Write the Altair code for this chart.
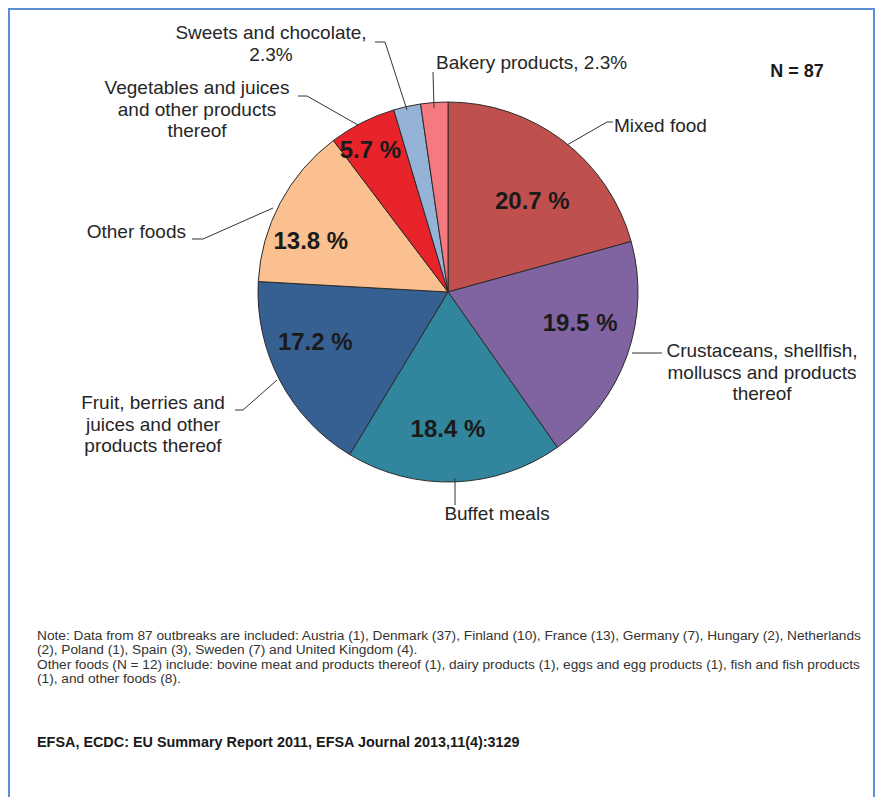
import math
import altair as alt
import pandas as pd

# ---------------- data ----------------
categories = [
    "Mixed food",
    "Crustaceans, shellfish, molluscs and products thereof",
    "Buffet meals",
    "Fruit, berries and juices and other products thereof",
    "Other foods",
    "Vegetables and juices and other products thereof",
    "Sweets and chocolate",
    "Bakery products",
]
shares = [20.7, 19.5, 18.4, 17.2, 13.8, 5.7, 2.3, 2.3]
inner_label = [True, True, True, True, True, True, False, False]

# outside label lines per category (text)
outer_lines = [
    ["Mixed food"],
    ["Crustaceans, shellfish,", "molluscs and products", "thereof"],
    ["Buffet meals"],
    ["Fruit, berries and", "juices and other", "products thereof"],
    ["Other foods"],
    ["Vegetables and juices", "and other products", "thereof"],
    ["Sweets and chocolate,", "2.3%"],
    ["Bakery products, 2.3%"],
]

note_lines = [
    "Note: Data from 87 outbreaks are included: Austria (1), Denmark (37), Finland (10), France (13), Germany (7), Hungary (2), Netherlands",
    "(2), Poland (1), Spain (3), Sweden (7) and United Kingdom (4).",
    "Other foods (N = 12) include: bovine meat and products thereof (1), dairy products (1), eggs and egg products (1), fish and fish products",
    "(1), and other foods (8).",
]
citation = "EFSA, ECDC: EU Summary Report 2011, EFSA Journal 2013,11(4):3129"
n_text = "N = 87"

# ---------------- style / layout ----------------
colors = ["#C0504D", "#8064A2", "#31859C", "#366092", "#FAC090", "#E8232A", "#95B3D7", "#F47A80"]
W, H = 867, 789
OFF = 8  # page margin: chart coords = page coords - 8
CX, CY, R = 448 - OFF, 292 - OFF, 190
FONT = "Liberation Sans, Arial, Helvetica, sans-serif"
NARROW = "Liberation Sans Narrow, Arial Narrow, Liberation Sans, sans-serif"

# inner % label radius and angular nudge (degrees)
lbl_radius = [123, 136, 138, 142, 146, 161, 0, 0]
lbl_nudge = [6, -6, 2, 7, -8, -2, 0, 0]

# outer label anchors (page coords): x, first-line y, align
outer_anchor = [
    (614, 126, "left"),
    (762, 351, "center"),
    (497, 514, "center"),
    (153, 403, "center"),
    (186, 232, "right"),
    (197, 88, "center"),
    (271, 33, "center"),
    (436, 63, "left"),
]
line_gap = 21.5

# leader lines (page coords)
leaders = [
    [(567, 145), (607, 122), (613, 122)],
    [(632, 353), (662, 353)],
    [(455, 478), (455, 505)],
    [(277, 380), (243, 410), (235, 410)],
    [(273, 208), (203, 239), (192, 239)],
    [(358, 125), (307, 96), (298, 96)],
    [(407, 110), (385, 42), (375, 42)],
    [(434, 108), (433, 72)],
]

# ---------------- tables ----------------
pie_df = pd.DataFrame({"cat": categories, "share": shares, "idx": list(range(len(categories)))})

total = sum(shares)
rows = []
cum = 0.0
for i, (c, s) in enumerate(zip(categories, shares)):
    mid = (cum + s / 2) / total * 360 + lbl_nudge[i]
    cum += s
    if inner_label[i]:
        a = math.radians(mid)
        rows.append({
            "x": CX + lbl_radius[i] * math.sin(a),
            "y": CY - lbl_radius[i] * math.cos(a),
            "t": f"{s} %",
        })
pct_df = pd.DataFrame(rows)

olab = []
for i, lines in enumerate(outer_lines):
    ax, ay, al = outer_anchor[i]
    for j, t in enumerate(lines):
        olab.append({"x": ax - OFF, "y": ay - OFF + j * line_gap, "t": t, "al": al})
olab_df = pd.DataFrame(olab)

lead = []
for i, pts in enumerate(leaders):
    for j, (px, py) in enumerate(pts):
        lead.append({"seg": i, "k": j, "x": px - OFF, "y": py - OFF})
lead_df = pd.DataFrame(lead)

note_df = pd.DataFrame({"t": note_lines, "x": [37 - OFF] * 4, "y": [y - OFF for y in (636, 650, 665, 679)]})

# ---------------- chart ----------------
frame = alt.Chart(pd.DataFrame({"a": [0]})).mark_rect(
    fill=None, stroke="#5B8ED6", strokeWidth=2
).encode(x=alt.value(1), x2=alt.value(W - 1), y=alt.value(1), y2=alt.value(H + 20))

pie = alt.Chart(pie_df).mark_arc(radius=R, stroke="#2b2b2b", strokeWidth=1).encode(
    theta=alt.Theta("share:Q", stack=True),
    color=alt.Color("cat:N", scale=alt.Scale(domain=categories, range=colors), legend=None),
    order=alt.Order("idx:Q"),
    x=alt.value(CX),
    y=alt.value(CY),
)

pct = alt.Chart(pct_df).mark_text(
    font=FONT, fontSize=24, fontWeight="bold", color="#1a1a1a", baseline="middle", align="center"
).encode(x=alt.X("x:Q", scale=None), y=alt.Y("y:Q", scale=None), text="t:N")

lead_lines = alt.Chart(lead_df).mark_line(color="#333333", strokeWidth=1).encode(
    x=alt.X("x:Q", scale=None), y=alt.Y("y:Q", scale=None), detail="seg:N", order="k:Q"
)

def outer(al):
    return alt.Chart(olab_df[olab_df["al"] == al]).mark_text(
        font=FONT, fontSize=19, color="#262626", baseline="middle", align=al
    ).encode(x=alt.X("x:Q", scale=None), y=alt.Y("y:Q", scale=None), text="t:N")

nlab = alt.Chart(pd.DataFrame({"t": [n_text]})).mark_text(
    font=FONT, fontSize=18, fontWeight="bold", color="#1a1a1a", baseline="middle", align="center"
).encode(x=alt.value(797 - OFF), y=alt.value(72 - OFF), text="t:N")

notes = alt.Chart(note_df).mark_text(
    font=FONT, fontSize=13.7, color="#333333", baseline="middle", align="left"
).encode(x=alt.X("x:Q", scale=None), y=alt.Y("y:Q", scale=None), text="t:N")

cite = alt.Chart(pd.DataFrame({"t": [citation]})).mark_text(
    font=NARROW, fontSize=14.4, fontWeight="bold", color="#1a1a1a", baseline="middle", align="left"
).encode(x=alt.value(37 - OFF), y=alt.value(743 - OFF), text="t:N")

chart = alt.layer(
    frame, pie, pct, lead_lines, outer("left"), outer("center"), outer("right"), nlab, notes, cite
).properties(
    width=W, height=H, padding=0, autosize=alt.AutoSizeParams(type="none")
).configure_view(stroke=None).configure(background="white")

chart.save("out.html", embed_options={"renderer": "svg", "actions": False})
